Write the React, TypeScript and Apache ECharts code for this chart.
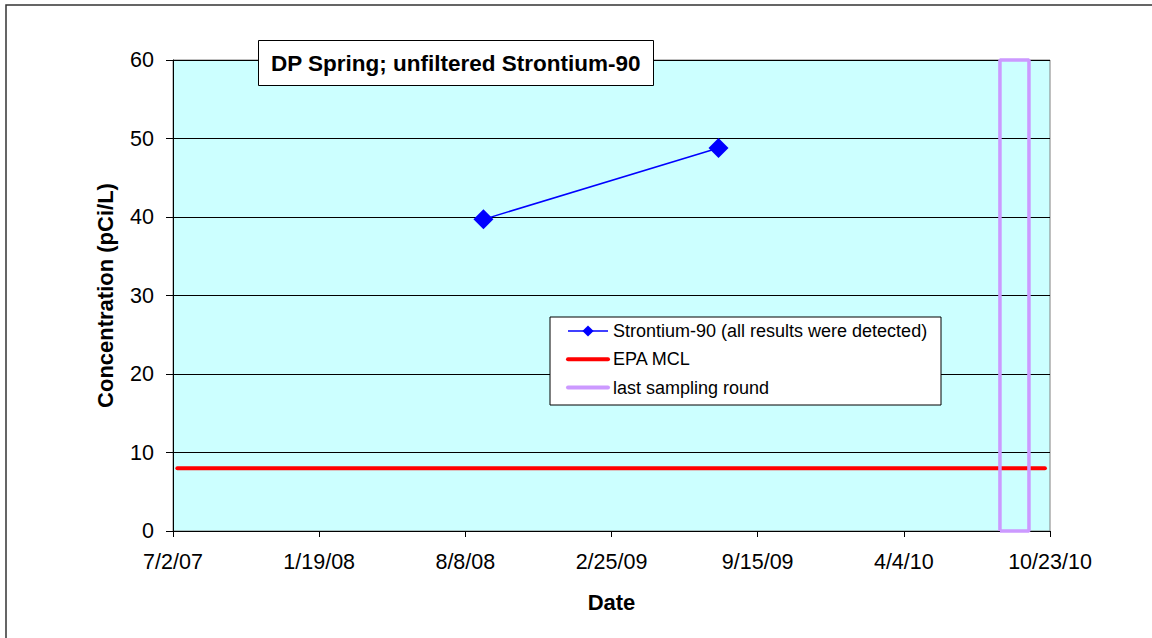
import React, { useEffect, useRef } from "react";
import * as echarts from "echarts";

// ---- data ----
const axisStartDate = "2007-07-02";
const axisEndDate = "2010-10-23";
const sampleDates = ["2008-09-02", "2009-07-23"];
const strontium90 = [39.7, 48.8];
const mclDates = ["2007-07-08", "2010-10-16"];
const mclValues = [8, 8];
const lastRoundDates = ["2010-08-15", "2010-08-15", "2010-09-24", "2010-09-24", "2010-08-15"];
const lastRoundValues = [0, 60, 60, 0, 0];
const yTicks = [0, 10, 20, 30, 40, 50, 60];

const DAY = 86400000;
const BASE = Date.parse(axisStartDate + "T00:00:00Z");
const toDays = (s: string) => Math.round((Date.parse(s + "T00:00:00Z") - BASE) / DAY);
const fmtDate = (v: number) => {
  const d = new Date(BASE + Math.floor(v + 1e-6) * DAY);
  return `${d.getUTCMonth() + 1}/${d.getUTCDate()}/${String(d.getUTCFullYear()).slice(2)}`;
};

const FONT = "'Liberation Sans', Arial, sans-serif";

export default function App() {
  const ref = useRef<HTMLDivElement>(null);
  useEffect(() => {
    if (!ref.current) return;
    const chart = echarts.init(ref.current, null, { renderer: "svg" });
    const xMax = toDays(axisEndDate);
    chart.setOption({
      animation: false,
      backgroundColor: "#ffffff",
      textStyle: { fontFamily: FONT, color: "#000" },
      title: {
        text: "DP Spring; unfiltered Strontium-90",
        left: 258,
        top: 40,
        padding: [11, 13, 11, 13],
        backgroundColor: "#ffffff",
        borderColor: "#000",
        borderWidth: 1,
        textStyle: { fontFamily: FONT, fontSize: 22.5, fontWeight: "bold", color: "#000", lineHeight: 24 },
      },
      graphic: [
        {
          type: "rect",
          z: 0,
          shape: { x: 6, y: 5, width: 1170, height: 660 },
          style: { fill: "none", stroke: "#333", lineWidth: 1.5 },
        },
        {
          type: "rect",
          z: 3,
          shape: { x: 550, y: 317, width: 391, height: 88 },
          style: { fill: "#fff", stroke: "#000", lineWidth: 1 },
        },
      ],
      legend: {
        orient: "vertical",
        left: 566,
        top: 322,
        padding: 0,
        itemWidth: 40,
        itemHeight: 14,
        itemGap: 10.3,
        z: 4,
        textStyle: { fontFamily: FONT, fontSize: 18, color: "#000" },
        data: [
          { name: "Strontium-90 (all results were detected)", lineStyle: { width: 1.5, color: "#0000FF" } },
          {
            name: "EPA MCL",
            itemStyle: { color: "rgba(0,0,0,0)", opacity: 0 },
            lineStyle: { width: 4, color: "#FF0000", cap: "round" },
          },
          {
            name: "last sampling round",
            itemStyle: { color: "rgba(0,0,0,0)", opacity: 0 },
            lineStyle: { width: 4, color: "#CC99FF", cap: "round" },
          },
        ],
      },
      grid: {
        left: 173,
        right: 102,
        top: 60,
        bottom: 107,
        show: true,
        backgroundColor: "#CCFFFF",
        borderColor: "#808080",
        borderWidth: 1,
      },
      xAxis: {
        type: "value",
        min: 0,
        max: xMax,
        interval: xMax / 6,
        name: "Date",
        nameLocation: "middle",
        nameGap: 60,
        nameTextStyle: { fontFamily: FONT, fontSize: 22, fontWeight: "bold", color: "#000" },
        axisLine: { show: true, lineStyle: { color: "#000", width: 1 } },
        axisTick: { show: true, length: 6, lineStyle: { color: "#000" } },
        axisLabel: { formatter: (v: number) => fmtDate(v), fontFamily: FONT, fontSize: 21.5, color: "#000", margin: 20 },
        splitLine: { show: false },
      },
      yAxis: {
        type: "value",
        min: yTicks[0],
        max: yTicks[yTicks.length - 1],
        interval: yTicks[1] - yTicks[0],
        name: "Concentration (pCi/L)",
        nameLocation: "middle",
        nameGap: 57,
        nameTextStyle: { fontFamily: FONT, fontSize: 22, fontWeight: "bold", color: "#000" },
        axisLine: { show: true, lineStyle: { color: "#000", width: 1 } },
        axisTick: { show: true, length: 7, lineStyle: { color: "#000" } },
        axisLabel: { fontFamily: FONT, fontSize: 21.5, color: "#000", margin: 19 },
        splitLine: { show: true, lineStyle: { color: "#000", width: 1 } },
      },
      series: [
        {
          name: "Strontium-90 (all results were detected)",
          type: "line",
          data: sampleDates.map((d, i) => [toDays(d), strontium90[i]]),
          symbol: "diamond",
          symbolSize: 20,
          itemStyle: { color: "#0000FF" },
          lineStyle: { color: "#0000FF", width: 1.5 },
          z: 5,
        },
        {
          name: "EPA MCL",
          type: "line",
          data: mclDates.map((d, i) => [toDays(d), mclValues[i]]),
          symbol: "none",
          itemStyle: { color: "#FF0000" },
          lineStyle: { color: "#FF0000", width: 4, cap: "round" },
          z: 3,
        },
        {
          name: "last sampling round",
          type: "line",
          data: lastRoundDates.map((d, i) => [toDays(d), lastRoundValues[i]]),
          symbol: "none",
          clip: false,
          itemStyle: { color: "#CC99FF" },
          lineStyle: { color: "#CC99FF", width: 3.5 },
          z: 4,
        },
      ],
    });
    return () => chart.dispose();
  }, []);
  return <div ref={ref} style={{ position: "absolute", left: 0, top: 0, width: 1152, height: 638 }} />;
}
